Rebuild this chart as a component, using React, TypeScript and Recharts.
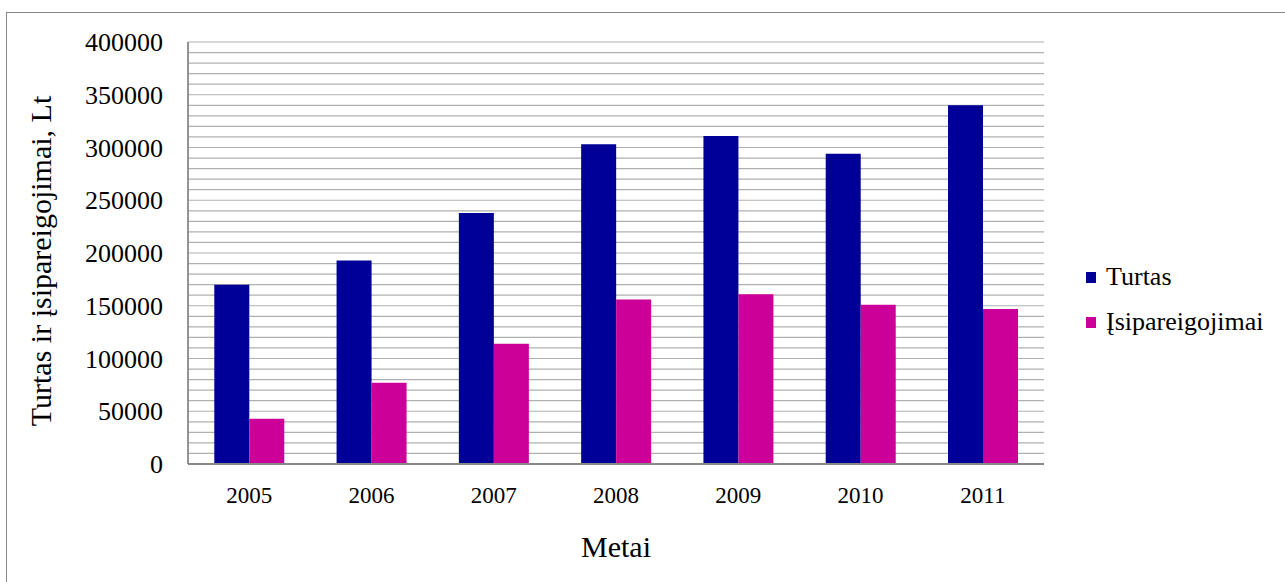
import React from "react";
import { BarChart, Bar, XAxis, YAxis, CartesianGrid, Label } from "recharts";

// Assets and liabilities by year, Lt
const years = ["2005", "2006", "2007", "2008", "2009", "2010", "2011"];
const turtas = [170000, 193000, 238000, 303000, 311000, 294000, 340000];
const isipareigojimai = [43000, 77000, 114000, 156000, 161000, 151000, 147000];

const yTicks = [0, 50000, 100000, 150000, 200000, 250000, 300000, 350000, 400000];
// minor horizontal grid every 10 000
const gridValues = Array.from({ length: 41 }, (_, i) => i * 10000);

const seriesNames = ["Turtas", "Įsipareigojimai"];
const seriesColors = ["#000099", "#CC0099"];

const data = years.map((year, i) => ({
  year,
  turtas: turtas[i],
  isip: isipareigojimai[i],
}));

const FONT = "'Liberation Serif', 'Times New Roman', serif";

const YTitle = (props: any) => {
  const vb = props.viewBox || {};
  const cx = 40;
  const cy = vb.y + vb.height / 2 + 8;
  return (
    <text
      x={cx}
      y={cy}
      transform={`rotate(-90, ${cx}, ${cy})`}
      textAnchor="middle"
      dominantBaseline="central"
      fontFamily={FONT}
      fontSize={30}
      fill="#000"
    >
      Turtas ir įsipareigojimai, Lt
    </text>
  );
};

export default function App() {
  return (
    <div
      style={{
        position: "absolute",
        left: 0,
        top: 0,
        width: 1285,
        height: 582,
        overflow: "hidden",
        background: "#fff",
      }}
    >
      <div
        style={{
          position: "absolute",
          left: 6,
          top: 12,
          width: 1300,
          height: 620,
          border: "1.5px solid #888",
        }}
      />
      <BarChart
        width={1285}
        height={582}
        data={data}
        margin={{ top: 42, right: 241, bottom: 0, left: 0 }}
        barCategoryGap="21.5%"
        barGap={0}
        style={{ position: "absolute", left: 0, top: 0 }}
      >
        <CartesianGrid
          vertical={false}
          horizontalValues={gridValues}
          stroke="#b0b0b0"
          strokeWidth={1.2}
        />
        <XAxis
          dataKey="year"
          height={118}
          tickLine={false}
          tickSize={0}
          tickMargin={23}
          axisLine={{ stroke: "#888", strokeWidth: 1.8 }}
          tick={{ fontFamily: FONT, fontSize: 23, fill: "#000" }}
        >
          <Label
            value="Metai"
            position="insideBottom"
            offset={25}
            style={{ fontFamily: FONT, fontSize: 30, fill: "#000" }}
          />
        </XAxis>
        <YAxis
          width={188}
          domain={[0, 400000]}
          ticks={yTicks}
          interval={0}
          tickLine={false}
          tickSize={0}
          tickMargin={25}
          axisLine={{ stroke: "#888", strokeWidth: 1.8 }}
          tick={{ fontFamily: FONT, fontSize: 26, fill: "#000" }}
          label={<YTitle />}
        />
        <Bar dataKey="turtas" name={seriesNames[0]} fill={seriesColors[0]} isAnimationActive={false} />
        <Bar dataKey="isip" name={seriesNames[1]} fill={seriesColors[1]} isAnimationActive={false} />
      </BarChart>
      {seriesNames.map((name, i) => (
        <div
          key={name}
          style={{
            position: "absolute",
            left: 1086,
            top: 262 + i * 45,
            height: 30,
            display: "flex",
            alignItems: "center",
            fontFamily: FONT,
            fontSize: 26,
            color: "#000",
            whiteSpace: "nowrap",
          }}
        >
          <span
            style={{
              display: "inline-block",
              width: 10,
              height: 11,
              background: seriesColors[i],
              marginRight: 10,
            }}
          />
          {name}
        </div>
      ))}
    </div>
  );
}
